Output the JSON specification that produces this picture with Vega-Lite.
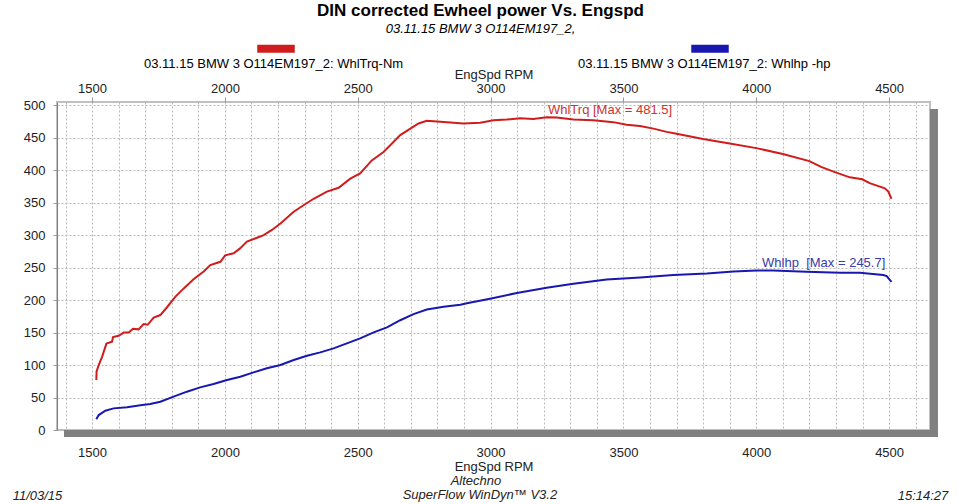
{
  "$schema": "https://vega.github.io/schema/vega-lite/v6.json",
  "width": 873,
  "height": 328,
  "autosize": {"type": "none"},
  "padding": {"left": 57, "top": 102, "right": 30, "bottom": 74},
  "background": "white",
  "title": {
    "text": "DIN corrected Ewheel power Vs. Engspd",
    "subtitle": "03.11.15 BMW 3 O114EM197_2,",
    "anchor": "middle",
    "frame": "bounds",
    "font": "Liberation Sans",
    "fontSize": 17,
    "fontWeight": "bold",
    "color": "black",
    "subtitleFont": "Liberation Sans",
    "subtitleFontSize": 13,
    "subtitleFontStyle": "italic",
    "subtitleColor": "black",
    "subtitlePadding": 3,
    "offset": 18
  },
  "config": {
    "font": "Liberation Sans",
    "view": {"stroke": "#c0c0c0", "strokeWidth": 2, "fill": "white"},
    "axis": {
      "labelFont": "Liberation Sans",
      "titleFont": "Liberation Sans",
      "labelFontSize": 13,
      "titleFontSize": 13,
      "titleFontWeight": "normal",
      "labelColor": "#222222",
      "titleColor": "#222222"
    },
    "text": {"font": "Liberation Sans", "fontSize": 13}
  },
  "resolve": {"axis": {"x": "independent", "y": "independent"}},
  "layer": [
    {
      "data": {
        "values": [
          {"s": "WhlTrq-Nm", "rpm": 1516, "v": 77},
          {"s": "WhlTrq-Nm", "rpm": 1517, "v": 90},
          {"s": "WhlTrq-Nm", "rpm": 1525, "v": 100},
          {"s": "WhlTrq-Nm", "rpm": 1538, "v": 113},
          {"s": "WhlTrq-Nm", "rpm": 1554, "v": 133},
          {"s": "WhlTrq-Nm", "rpm": 1575, "v": 136},
          {"s": "WhlTrq-Nm", "rpm": 1579, "v": 143},
          {"s": "WhlTrq-Nm", "rpm": 1600, "v": 145},
          {"s": "WhlTrq-Nm", "rpm": 1619, "v": 150},
          {"s": "WhlTrq-Nm", "rpm": 1638, "v": 150},
          {"s": "WhlTrq-Nm", "rpm": 1654, "v": 156},
          {"s": "WhlTrq-Nm", "rpm": 1675, "v": 155},
          {"s": "WhlTrq-Nm", "rpm": 1694, "v": 163},
          {"s": "WhlTrq-Nm", "rpm": 1709, "v": 162},
          {"s": "WhlTrq-Nm", "rpm": 1732, "v": 173},
          {"s": "WhlTrq-Nm", "rpm": 1757, "v": 177},
          {"s": "WhlTrq-Nm", "rpm": 1782, "v": 189},
          {"s": "WhlTrq-Nm", "rpm": 1813, "v": 205},
          {"s": "WhlTrq-Nm", "rpm": 1845, "v": 218},
          {"s": "WhlTrq-Nm", "rpm": 1882, "v": 232},
          {"s": "WhlTrq-Nm", "rpm": 1920, "v": 244},
          {"s": "WhlTrq-Nm", "rpm": 1945, "v": 254},
          {"s": "WhlTrq-Nm", "rpm": 1983, "v": 259},
          {"s": "WhlTrq-Nm", "rpm": 2001, "v": 269},
          {"s": "WhlTrq-Nm", "rpm": 2033, "v": 272},
          {"s": "WhlTrq-Nm", "rpm": 2058, "v": 280},
          {"s": "WhlTrq-Nm", "rpm": 2083, "v": 290},
          {"s": "WhlTrq-Nm", "rpm": 2121, "v": 296},
          {"s": "WhlTrq-Nm", "rpm": 2146, "v": 300},
          {"s": "WhlTrq-Nm", "rpm": 2177, "v": 308},
          {"s": "WhlTrq-Nm", "rpm": 2209, "v": 318},
          {"s": "WhlTrq-Nm", "rpm": 2259, "v": 336},
          {"s": "WhlTrq-Nm", "rpm": 2296, "v": 346},
          {"s": "WhlTrq-Nm", "rpm": 2334, "v": 356},
          {"s": "WhlTrq-Nm", "rpm": 2384, "v": 367},
          {"s": "WhlTrq-Nm", "rpm": 2428, "v": 373},
          {"s": "WhlTrq-Nm", "rpm": 2472, "v": 387},
          {"s": "WhlTrq-Nm", "rpm": 2509, "v": 395},
          {"s": "WhlTrq-Nm", "rpm": 2553, "v": 415},
          {"s": "WhlTrq-Nm", "rpm": 2597, "v": 428},
          {"s": "WhlTrq-Nm", "rpm": 2629, "v": 441},
          {"s": "WhlTrq-Nm", "rpm": 2660, "v": 454},
          {"s": "WhlTrq-Nm", "rpm": 2698, "v": 464},
          {"s": "WhlTrq-Nm", "rpm": 2729, "v": 472},
          {"s": "WhlTrq-Nm", "rpm": 2760, "v": 476},
          {"s": "WhlTrq-Nm", "rpm": 2798, "v": 475},
          {"s": "WhlTrq-Nm", "rpm": 2836, "v": 474},
          {"s": "WhlTrq-Nm", "rpm": 2898, "v": 472},
          {"s": "WhlTrq-Nm", "rpm": 2961, "v": 473},
          {"s": "WhlTrq-Nm", "rpm": 3011, "v": 477},
          {"s": "WhlTrq-Nm", "rpm": 3061, "v": 478},
          {"s": "WhlTrq-Nm", "rpm": 3111, "v": 480},
          {"s": "WhlTrq-Nm", "rpm": 3161, "v": 479},
          {"s": "WhlTrq-Nm", "rpm": 3211, "v": 481.5},
          {"s": "WhlTrq-Nm", "rpm": 3249, "v": 481},
          {"s": "WhlTrq-Nm", "rpm": 3312, "v": 478},
          {"s": "WhlTrq-Nm", "rpm": 3387, "v": 477},
          {"s": "WhlTrq-Nm", "rpm": 3462, "v": 474},
          {"s": "WhlTrq-Nm", "rpm": 3512, "v": 470},
          {"s": "WhlTrq-Nm", "rpm": 3562, "v": 468},
          {"s": "WhlTrq-Nm", "rpm": 3613, "v": 464},
          {"s": "WhlTrq-Nm", "rpm": 3663, "v": 459},
          {"s": "WhlTrq-Nm", "rpm": 3700, "v": 456},
          {"s": "WhlTrq-Nm", "rpm": 3800, "v": 448},
          {"s": "WhlTrq-Nm", "rpm": 3900, "v": 441},
          {"s": "WhlTrq-Nm", "rpm": 4000, "v": 434},
          {"s": "WhlTrq-Nm", "rpm": 4100, "v": 425},
          {"s": "WhlTrq-Nm", "rpm": 4200, "v": 414},
          {"s": "WhlTrq-Nm", "rpm": 4244, "v": 405},
          {"s": "WhlTrq-Nm", "rpm": 4296, "v": 397},
          {"s": "WhlTrq-Nm", "rpm": 4352, "v": 389},
          {"s": "WhlTrq-Nm", "rpm": 4399, "v": 386},
          {"s": "WhlTrq-Nm", "rpm": 4427, "v": 380},
          {"s": "WhlTrq-Nm", "rpm": 4484, "v": 372},
          {"s": "WhlTrq-Nm", "rpm": 4497, "v": 367},
          {"s": "WhlTrq-Nm", "rpm": 4509, "v": 356},
          {"s": "Whlhp -hp", "rpm": 1516, "v": 16.4},
          {"s": "Whlhp -hp", "rpm": 1525, "v": 23},
          {"s": "Whlhp -hp", "rpm": 1550, "v": 29.7},
          {"s": "Whlhp -hp", "rpm": 1581, "v": 33.3},
          {"s": "Whlhp -hp", "rpm": 1632, "v": 35},
          {"s": "Whlhp -hp", "rpm": 1682, "v": 38},
          {"s": "Whlhp -hp", "rpm": 1719, "v": 40},
          {"s": "Whlhp -hp", "rpm": 1757, "v": 43.6},
          {"s": "Whlhp -hp", "rpm": 1807, "v": 51.3},
          {"s": "Whlhp -hp", "rpm": 1857, "v": 59},
          {"s": "Whlhp -hp", "rpm": 1907, "v": 65.6},
          {"s": "Whlhp -hp", "rpm": 1957, "v": 70.8},
          {"s": "Whlhp -hp", "rpm": 2008, "v": 77},
          {"s": "Whlhp -hp", "rpm": 2058, "v": 82},
          {"s": "Whlhp -hp", "rpm": 2108, "v": 88.7},
          {"s": "Whlhp -hp", "rpm": 2158, "v": 95},
          {"s": "Whlhp -hp", "rpm": 2209, "v": 100},
          {"s": "Whlhp -hp", "rpm": 2259, "v": 107.7},
          {"s": "Whlhp -hp", "rpm": 2309, "v": 114.4},
          {"s": "Whlhp -hp", "rpm": 2359, "v": 119.5},
          {"s": "Whlhp -hp", "rpm": 2409, "v": 125.6},
          {"s": "Whlhp -hp", "rpm": 2459, "v": 133.3},
          {"s": "Whlhp -hp", "rpm": 2509, "v": 141},
          {"s": "Whlhp -hp", "rpm": 2560, "v": 150.3},
          {"s": "Whlhp -hp", "rpm": 2610, "v": 158},
          {"s": "Whlhp -hp", "rpm": 2660, "v": 169},
          {"s": "Whlhp -hp", "rpm": 2710, "v": 178.5},
          {"s": "Whlhp -hp", "rpm": 2760, "v": 185.6},
          {"s": "Whlhp -hp", "rpm": 2823, "v": 189.7},
          {"s": "Whlhp -hp", "rpm": 2886, "v": 192.8},
          {"s": "Whlhp -hp", "rpm": 2911, "v": 195},
          {"s": "Whlhp -hp", "rpm": 2998, "v": 202},
          {"s": "Whlhp -hp", "rpm": 3099, "v": 211},
          {"s": "Whlhp -hp", "rpm": 3211, "v": 219},
          {"s": "Whlhp -hp", "rpm": 3312, "v": 225},
          {"s": "Whlhp -hp", "rpm": 3437, "v": 231.8},
          {"s": "Whlhp -hp", "rpm": 3563, "v": 234.9},
          {"s": "Whlhp -hp", "rpm": 3688, "v": 238.5},
          {"s": "Whlhp -hp", "rpm": 3814, "v": 241},
          {"s": "Whlhp -hp", "rpm": 3914, "v": 244},
          {"s": "Whlhp -hp", "rpm": 4002, "v": 245.6},
          {"s": "Whlhp -hp", "rpm": 4064, "v": 245.7},
          {"s": "Whlhp -hp", "rpm": 4190, "v": 243.5},
          {"s": "Whlhp -hp", "rpm": 4315, "v": 242},
          {"s": "Whlhp -hp", "rpm": 4390, "v": 242},
          {"s": "Whlhp -hp", "rpm": 4478, "v": 238.5},
          {"s": "Whlhp -hp", "rpm": 4491, "v": 237},
          {"s": "Whlhp -hp", "rpm": 4509, "v": 228}
        ]
      },
      "mark": {"type": "line", "strokeWidth": 2, "clip": true},
      "encoding": {
        "x": {
          "field": "rpm",
          "type": "quantitative",
          "scale": {"domain": [1368, 4654], "nice": false, "zero": false},
          "axis": {
            "orient": "bottom",
            "title": "EngSpd RPM",
            "format": "d",
            "values": [1400, 1500, 1600, 1700, 1800, 1900, 2000, 2100, 2200, 2300, 2400, 2500, 2600, 2700, 2800, 2900, 3000, 3100, 3200, 3300, 3400, 3500, 3600, 3700, 3800, 3900, 4000, 4100, 4200, 4300, 4400, 4500, 4600],
            "labelExpr": "datum.value % 500 === 0 ? datum.label : ''",
            "grid": true,
            "gridDash": [2, 2],
            "gridColor": "#b8b8b8",
            "gridWidth": 1,
            "ticks": false,
            "domain": false,
            "labelPadding": 16,
            "labelOverlap": false,
            "labelFlush": false,
            "titlePadding": 1
          }
        },
        "y": {
          "field": "v",
          "type": "quantitative",
          "scale": {"domain": [0, 505], "nice": false, "zero": false},
          "axis": {
            "orient": "left",
            "title": null,
            "format": "d",
            "values": [0, 50, 100, 150, 200, 250, 300, 350, 400, 450, 500],
            "grid": true,
            "gridDash": [2, 2],
            "gridColor": "#b8b8b8",
            "gridWidth": 1,
            "tickSize": 4,
            "tickColor": "#999999",
            "labelPadding": 8,
            "labelOverlap": false,
            "labelFlush": false,
            "domain": true,
            "domainColor": "#808080",
            "domainWidth": 1
          }
        },
        "color": {
          "field": "s",
          "type": "nominal",
          "scale": {"domain": ["WhlTrq-Nm", "Whlhp -hp"], "range": ["#d01c1c", "#1818b0"]},
          "legend": {
            "orient": "none",
            "legendX": 65,
            "legendY": -47,
            "direction": "horizontal",
            "title": null,
            "padding": 0,
            "symbolType": "M25.25,-3.06H32.75",
            "symbolSize": 100,
            "symbolStrokeWidth": 8,
            "labelFont": "Liberation Sans",
            "labelFontSize": 13,
            "labelColor": "black",
            "labelLimit": 400,
            "columnPadding": 152,
            "labelExpr": "'03.11.15 BMW 3 O114EM197_2: ' + datum.label"
          }
        }
      }
    },
    {
      "data": {"values": [{}]},
      "mark": {"type": "rect", "color": "#808080"},
      "encoding": {
        "x": {"datum": 4654, "type": "quantitative", "axis": null},
        "x2": {"datum": 4684},
        "y": {"datum": 494.2, "type": "quantitative", "axis": null},
        "y2": {"datum": -10.8}
      }
    },
    {
      "data": {"values": [{}]},
      "mark": {"type": "rect", "color": "#808080"},
      "encoding": {
        "x": {"datum": 1394.3, "type": "quantitative", "axis": null},
        "x2": {"datum": 4684},
        "y": {"datum": 0, "type": "quantitative", "axis": null},
        "y2": {"datum": -10.8}
      }
    },
    {
      "data": {"values": [{}]},
      "mark": {"type": "text", "text": "WhlTrq [Max = 481.5]", "align": "left", "baseline": "middle", "color": "#cc3333", "fontSize": 13},
      "encoding": {
        "x": {
          "datum": 3216,
          "type": "quantitative",
          "axis": {
            "orient": "top",
            "title": "EngSpd RPM",
            "format": "d",
            "values": [1500, 2000, 2500, 3000, 3500, 4000, 4500],
            "grid": false,
            "domain": false,
            "ticks": true,
            "tickSize": 5,
            "tickColor": "#999999",
            "labelPadding": 2,
            "labelFlush": false,
            "titlePadding": 1
          }
        },
        "y": {"datum": 492.7, "type": "quantitative", "axis": null}
      }
    },
    {
      "data": {"values": [{}]},
      "mark": {"type": "text", "text": "Whlhp\u00a0 [Max = 245.7]", "align": "left", "baseline": "middle", "color": "#3a3aaa", "fontSize": 13},
      "encoding": {
        "x": {"datum": 4022, "type": "quantitative", "axis": null},
        "y": {"datum": 257.1, "type": "quantitative", "axis": null}
      }
    },
    {
      "data": {"values": [{}]},
      "mark": {"type": "text", "text": "Altechno", "align": "center", "baseline": "middle", "fontStyle": "italic", "color": "#222222", "fontSize": 13},
      "encoding": {
        "x": {"datum": 2945, "type": "quantitative", "axis": null},
        "y": {"datum": -78.5, "type": "quantitative", "axis": null}
      }
    },
    {
      "data": {"values": [{}]},
      "mark": {"type": "text", "text": "SuperFlow WinDyn™ V3.2", "align": "center", "baseline": "middle", "fontStyle": "italic", "color": "#222222", "fontSize": 13},
      "encoding": {
        "x": {"datum": 2960, "type": "quantitative", "axis": null},
        "y": {"datum": -100, "type": "quantitative", "axis": null}
      }
    },
    {
      "data": {"values": [{}]},
      "mark": {"type": "text", "text": "11/03/15", "align": "left", "baseline": "middle", "fontStyle": "italic", "color": "#222222", "fontSize": 13},
      "encoding": {
        "x": {"datum": 1201, "type": "quantitative", "axis": null},
        "y": {"datum": -102, "type": "quantitative", "axis": null}
      }
    },
    {
      "data": {"values": [{}]},
      "mark": {"type": "text", "text": "15:14:27", "align": "right", "baseline": "middle", "fontStyle": "italic", "color": "#222222", "fontSize": 13},
      "encoding": {
        "x": {"datum": 4723, "type": "quantitative", "axis": null},
        "y": {"datum": -102, "type": "quantitative", "axis": null}
      }
    }
  ]
}
